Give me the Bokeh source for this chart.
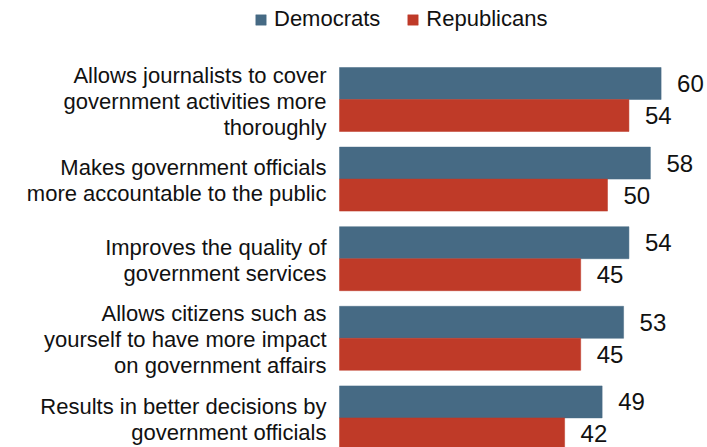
from bokeh.plotting import figure
from bokeh.models import Range1d, ColumnDataSource, Legend, LegendItem
from bokeh.core.properties import value
from bokeh.embed import file_html
from bokeh.resources import INLINE

categories = [
    "Allows journalists to cover\ngovernment activities more\nthoroughly",
    "Makes government officials\nmore accountable to the public",
    "Improves the quality of\ngovernment services",
    "Allows citizens such as\nyourself to have more impact\non government affairs",
    "Results in better decisions by\ngovernment officials",
]
democrats = [60, 58, 54, 53, 49]
republicans = [54, 50, 45, 45, 42]

DEM_COLOR = "#466A84"
REP_COLOR = "#BF3A28"
FONT = "Liberation Sans"

W, H = 707, 447
PX = 5.36    # pixels per percentage point
ROW = 79.6   # pixels per category row
p = figure(width=W, height=H, output_backend="svg", toolbar_location=None,
           x_range=Range1d(-339 / PX, (W - 339) / PX), y_range=Range1d(H / ROW, 0),
           x_axis_location=None, y_axis_location=None, min_border=0)
p.grid.visible = False
p.outline_line_color = None
p.background_fill_color = "white"

half = 16 / ROW
ypos = [i + 99 / ROW for i in range(len(categories))]
src = ColumnDataSource(dict(
    cat=categories, y=ypos,
    y_dem=[y - half for y in ypos], y_rep=[y + half for y in ypos],
    dem=democrats, rep=republicans,
    dem_lbl=[str(v) for v in democrats], rep_lbl=[str(v) for v in republicans],
    zero=[0] * len(categories),
))

r_dem = p.hbar(y="y_dem", left=0, right="dem", height=2 * half, source=src,
               fill_color=DEM_COLOR, line_color=DEM_COLOR, line_width=0.5)
r_rep = p.hbar(y="y_rep", left=0, right="rep", height=2 * half, source=src,
               fill_color=REP_COLOR, line_color=REP_COLOR, line_width=0.5)

p.text(x="dem", y="y_dem", text="dem_lbl", source=src, x_offset=16,
       text_align="left", text_baseline="middle", text_font=value(FONT),
       text_font_size="24px", text_color="#111111")
p.text(x="rep", y="y_rep", text="rep_lbl", source=src, x_offset=16,
       text_align="left", text_baseline="middle", text_font=value(FONT),
       text_font_size="24px", text_color="#111111")

p.text(x="zero", y="y", text="cat", source=src, x_offset=-13, y_offset=1.5,
       text_align="right", text_baseline="middle", text_font=value(FONT),
       text_font_size="22px", text_color="#111111", text_line_height=1.04)

legend = Legend(items=[LegendItem(label="Democrats", renderers=[r_dem]),
                       LegendItem(label="Republicans", renderers=[r_rep])],
                orientation="horizontal", location=(254, 415),
                glyph_width=13, glyph_height=13, label_standoff=7, spacing=26,
                padding=0, margin=0, border_line_alpha=0, background_fill_alpha=0,
                label_text_font=FONT, label_text_font_size="22px",
                label_text_color="#111111", label_height=20)
p.add_layout(legend, "center")

open("out.html", "w").write(file_html(p, INLINE))
